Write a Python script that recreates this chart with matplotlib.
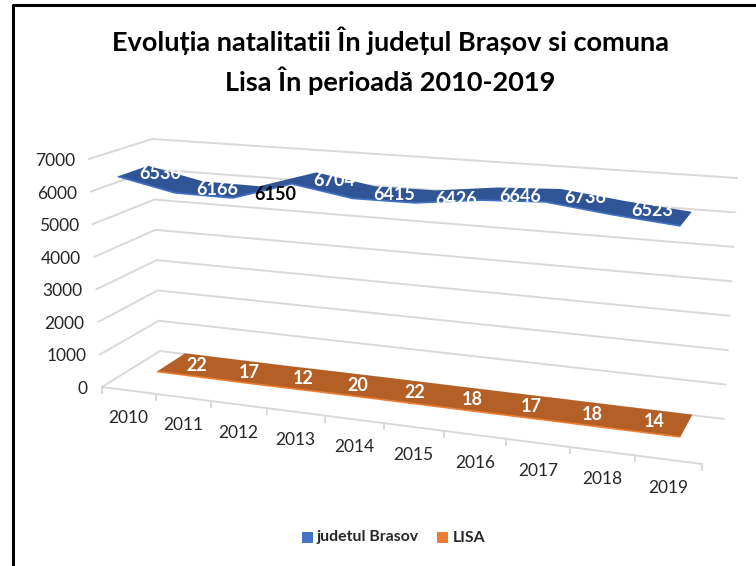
import matplotlib
matplotlib.use("Agg")
import matplotlib.pyplot as plt
from matplotlib.patches import Polygon, Rectangle
import numpy as np

plt.rcParams["font.family"] = ["Lato", "DejaVu Sans"]

years = [2010, 2011, 2012, 2013, 2014, 2015, 2016, 2017, 2018, 2019]
brasov = [6530, 6166, 6150, 6704, 6415, 6426, 6646, 6736, 6523, 6360]
lisa = [22, 17, 12, 20, 22, 18, 17, 18, 14, 15]
value_ticks = [0, 1000, 2000, 3000, 4000, 5000, 6000, 7000]
title_lines = ["Evoluția natalitatii În județul Brașov si comuna", "Lisa În perioadă 2010-2019"]

BLUE = "#2f5597"
BLUE_EDGE = "#4472c4"
ORANGE = "#b35f25"
ORANGE_EDGE = "#ed7d31"
GRID = "#d9d9d9"
VMAX = 7000.0
# pixel corners of the 3D box: (front/back, left/right, floor/top)
FL0, FR0, FL1, FR1 = (102, 387), (702, 464), (89, 159), (717, 205)
BL0, BR0, BL1, BR1 = (160, 351), (724, 419), (152, 139), (737, 178)
PERSP = 1.13


def project(u, d, v):
    """Category position u (0..10), depth d (0 front, 1 back), value v to pixels."""
    s = u / 10.0
    t = s / (PERSP + (1 - PERSP) * s)
    h = v / VMAX
    corners = np.array([[FL0, FR0, FL1, FR1], [BL0, BR0, BL1, BR1]], dtype=float)
    pts = []
    for row in corners:
        low = row[0] + (row[1] - row[0]) * t
        high = row[2] + (row[3] - row[2]) * t
        pts.append(low + (high - low) * h)
    return pts[0] + (pts[1] - pts[0]) * d


def ribbon(ax, values, d0, d1, color, edge):
    n = len(values)
    front = [project(i + 0.5, d0, values[i]) for i in range(n)]
    back = [project(i + 0.5, d1, values[i]) for i in range(n)]
    ax.add_patch(Polygon(front + back[::-1], closed=True, fc=color, ec="none", zorder=3))
    f = np.array(front)
    ax.plot(f[:, 0], f[:, 1], color=edge, lw=1.2, zorder=3.5, solid_capstyle="butt")


def value_labels(ax, values, d, colors):
    for i, val in enumerate(values):
        x, y = project(i + 1.0, d, val)
        ax.text(x, y, str(val), color=colors[i], fontsize=13, fontweight="bold",
                ha="center", va="center", zorder=4)


fig = plt.figure(figsize=(7.56, 5.66), dpi=100)
ax = fig.add_axes([0, 0, 1, 1])
ax.set_xlim(0, 756)
ax.set_ylim(566, 0)
ax.axis("off")

# chart frame, left and top only are inside the crop
ax.plot([12.5, 12.5, 756], [566, 4.5, 4.5], color="black", lw=2.2, zorder=1)

for v in value_ticks:
    pts = np.array([project(0, 0, v), project(0, 1, v), project(10, 1, v)])
    ax.plot(pts[:, 0], pts[:, 1], color=GRID, lw=1.4, zorder=2)
    x, y = project(0, 0, v)
    ax.text(x - 14, y + 2, str(v), ha="right", va="center", fontsize=12.5, color="#262626")

# floor front edge with ticks and year labels
edge = np.array([project(0, 0, 0), project(10, 0, 0)])
ax.plot(edge[:, 0], edge[:, 1], color=GRID, lw=1.4, zorder=2)
for i in range(len(years) + 1):
    x, y = project(i, 0, 0)
    ax.plot([x, x], [y, y + 6], color=GRID, lw=1.4, zorder=2)
for i, yr in enumerate(years):
    x, y = project(i + 0.5, 0, 0)
    ax.text(x, y + 28, str(yr), ha="center", va="center", fontsize=12.5, color="#262626")

ribbon(ax, lisa, 0.5, 1.0, ORANGE, ORANGE_EDGE)
ribbon(ax, brasov, 0.0, 0.5, BLUE, BLUE_EDGE)

brasov_colors = ["white"] * len(brasov)
brasov_colors[2] = "black"
value_labels(ax, brasov, 0.25, brasov_colors)
value_labels(ax, lisa, 0.75, ["white"] * len(lisa))

ax.text(390, 41, title_lines[0], ha="center", va="center", fontsize=19.5, fontweight="bold", color="black")
ax.text(390, 81, title_lines[1], ha="center", va="center", fontsize=19.5, fontweight="bold", color="black")

# legend
ax.add_patch(Rectangle((302, 532), 11, 11, fc=BLUE_EDGE, ec="none"))
ax.text(317, 537.5, "judetul Brasov", ha="left", va="center", fontsize=11.4, fontweight="bold", color="#262626")
ax.add_patch(Rectangle((437, 532), 11, 11, fc=ORANGE_EDGE, ec="none"))
ax.text(453, 537.5, "LISA", ha="left", va="center", fontsize=11.4, fontweight="bold", color="#262626")

fig.savefig("out.png", dpi=100)
